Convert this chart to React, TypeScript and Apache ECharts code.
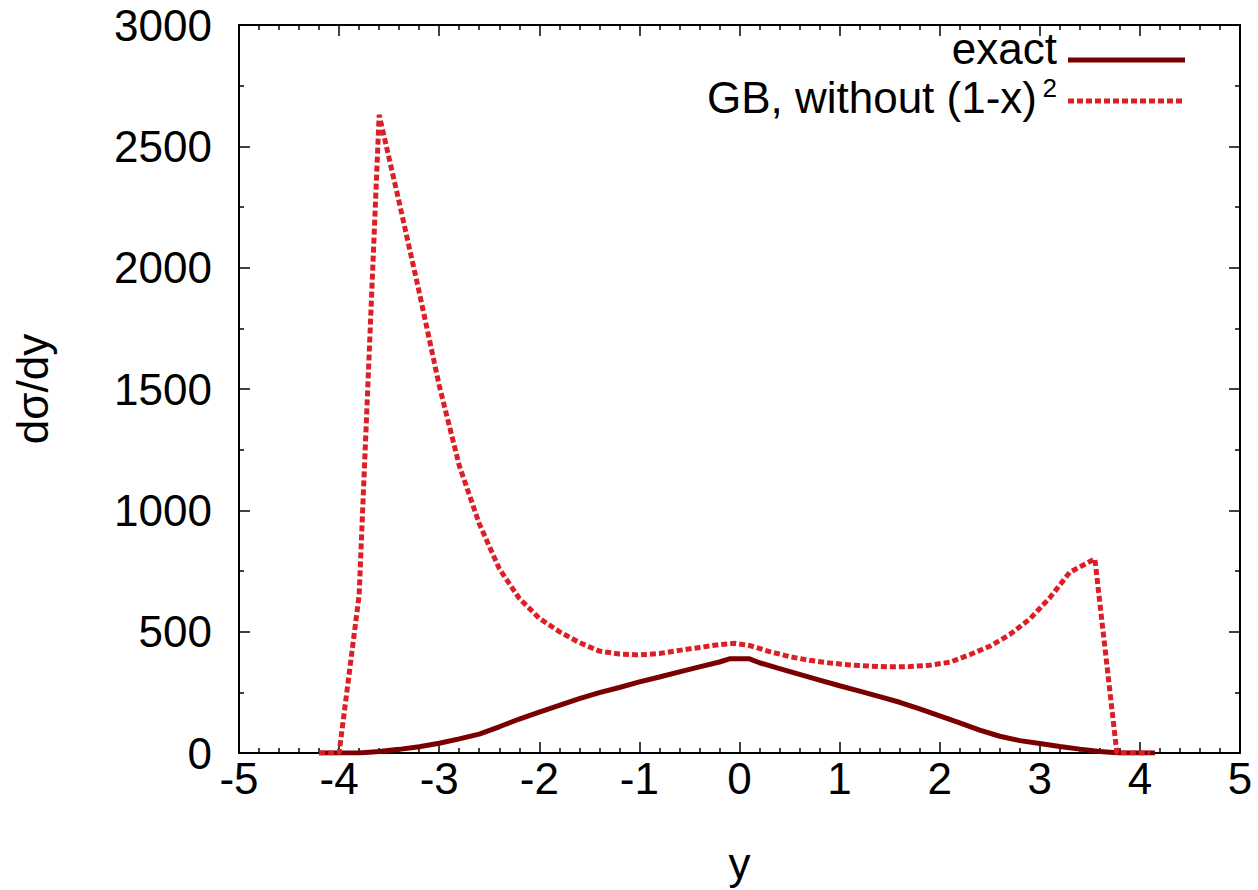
import React, { useEffect, useRef } from "react";
import * as echarts from "echarts";

const exactX = [-4.2, -3.8, -3.6, -3.4, -3.2, -3.0, -2.8, -2.6, -2.4, -2.2, -2.0, -1.8, -1.6, -1.4, -1.2, -1.0, -0.8, -0.6, -0.4, -0.2, -0.1, 0.1, 0.2, 0.4, 0.6, 0.8, 1.0, 1.2, 1.4, 1.6, 1.8, 2.0, 2.2, 2.4, 2.6, 2.8, 3.0, 3.2, 3.4, 3.6, 3.8, 4.15];
const exactY = [0, 0, 6, 15, 26, 40, 58, 78, 108, 140, 168, 196, 224, 249, 270, 293, 313, 334, 355, 375, 388, 388, 372, 348, 324, 300, 277, 255, 232, 209, 182, 153, 124, 94, 69, 51, 39, 27, 16, 6, 0, 0];

const gbX = [-4.2, -4.0, -3.8, -3.6, -3.4, -3.2, -3.0, -2.8, -2.6, -2.4, -2.2, -2.0, -1.8, -1.6, -1.4, -1.2, -1.0, -0.8, -0.6, -0.4, -0.2, -0.05, 0.1, 0.3, 0.5, 0.7, 0.9, 1.1, 1.3, 1.5, 1.7, 1.9, 2.1, 2.3, 2.5, 2.7, 2.9, 3.1, 3.3, 3.55, 3.77, 4.1];
const gbY = [0, 0, 650, 2630, 2270, 1900, 1515, 1185, 945, 760, 637, 555, 500, 455, 420, 408, 404, 410, 423, 435, 447, 452, 443, 418, 397, 382, 371, 363, 358, 355, 356, 362, 374, 405, 440, 488, 552, 640, 745, 800, 0, 0];

const xTicks = [-5, -4, -3, -2, -1, 0, 1, 2, 3, 4, 5];
const yTicks = [0, 500, 1000, 1500, 2000, 2500, 3000];

const seriesNames = ["exact", "GB, without (1-x)"];
const superscript = "2";

const FONT = "'Liberation Sans', Arial, Helvetica, sans-serif";
const FS = 44;
const EXACT_COLOR = "#7a0000";
const GB_COLOR = "#dc1f26";

export default function App() {
  const ref = useRef<HTMLDivElement>(null);
  useEffect(() => {
    if (!ref.current) return;
    const chart = echarts.init(ref.current, null, { renderer: "svg" });
    const axisCommon = {
      axisLine: { show: true, onZero: false, lineStyle: { color: "#000", width: 2 } },
      axisTick: { show: true, inside: true, length: 11, lineStyle: { color: "#000", width: 1.5 } },
      minorTick: { show: true, length: 5, lineStyle: { color: "#000", width: 1.5 } },
      splitLine: { show: false },
    };
    const fmt = (v: number) => String(v);
    chart.setOption({
      animation: false,
      backgroundColor: "#fff",
      grid: { left: 239, right: 18, top: 25, bottom: 135, containLabel: false },
      xAxis: [
        {
          type: "value",
          position: "bottom",
          min: xTicks[0],
          max: xTicks[xTicks.length - 1],
          interval: 1,
          ...axisCommon,
          minorTick: { ...axisCommon.minorTick, splitNumber: 5 },
          axisLabel: { color: "#000", fontSize: FS, fontFamily: FONT, margin: 3, formatter: fmt },
          name: "y",
          nameLocation: "middle",
          nameGap: 88,
          nameTextStyle: { color: "#000", fontSize: FS, fontFamily: FONT },
        },
        {
          type: "value",
          position: "top",
          min: xTicks[0],
          max: xTicks[xTicks.length - 1],
          interval: 1,
          ...axisCommon,
          minorTick: { ...axisCommon.minorTick, splitNumber: 5 },
          axisLabel: { show: false },
        },
      ],
      yAxis: [
        {
          type: "value",
          position: "left",
          min: yTicks[0],
          max: yTicks[yTicks.length - 1],
          interval: 500,
          ...axisCommon,
          minorTick: { ...axisCommon.minorTick, splitNumber: 2 },
          axisLabel: { color: "#000", fontSize: FS, fontFamily: FONT, margin: 27, formatter: fmt },
          name: "dσ/dy",
          nameLocation: "middle",
          nameGap: 185,
          nameRotate: 90,
          nameTextStyle: { color: "#000", fontSize: FS, fontFamily: FONT },
        },
        {
          type: "value",
          position: "right",
          min: yTicks[0],
          max: yTicks[yTicks.length - 1],
          interval: 500,
          ...axisCommon,
          minorTick: { ...axisCommon.minorTick, splitNumber: 2 },
          axisLabel: { show: false },
        },
      ],
      series: [
        {
          name: seriesNames[0],
          type: "line",
          xAxisIndex: 0,
          yAxisIndex: 0,
          showSymbol: false,
          symbol: "none",
          data: exactX.map((x, i) => [x, exactY[i]]),
          lineStyle: { color: EXACT_COLOR, width: 5 },
          itemStyle: { color: EXACT_COLOR },
          z: 3,
        },
        {
          name: seriesNames[1],
          type: "line",
          xAxisIndex: 0,
          yAxisIndex: 0,
          showSymbol: false,
          symbol: "none",
          data: gbX.map((x, i) => [x, gbY[i]]),
          lineStyle: { color: GB_COLOR, width: 5, type: [6, 3] },
          itemStyle: { color: GB_COLOR },
          z: 4,
        },
      ],
      graphic: [
        {
          type: "text",
          right: 1258 - 1057,
          top: 26,
          style: { text: seriesNames[0], fill: "#000", fontSize: FS, fontFamily: FONT, textAlign: "right" },
        },
        {
          type: "line",
          shape: { x1: 1068, y1: 60, x2: 1185, y2: 60 },
          style: { stroke: EXACT_COLOR, lineWidth: 5 },
        },
        {
          type: "text",
          right: 1258 - 1037,
          top: 75,
          style: { text: seriesNames[1], fill: "#000", fontSize: FS, fontFamily: FONT, textAlign: "right" },
        },
        {
          type: "text",
          right: 1258 - 1057,
          top: 75,
          style: { text: superscript, fill: "#000", fontSize: 26, fontFamily: FONT, textAlign: "right" },
        },
        {
          type: "line",
          shape: { x1: 1068, y1: 101, x2: 1185, y2: 101 },
          style: { stroke: GB_COLOR, lineWidth: 5, lineDash: [6, 3] },
        },
      ],
    });
    return () => chart.dispose();
  }, []);
  return (
    <div
      ref={ref}
      style={{ position: "fixed", left: 0, top: 0, width: 1258, height: 890, background: "#fff" }}
    />
  );
}
